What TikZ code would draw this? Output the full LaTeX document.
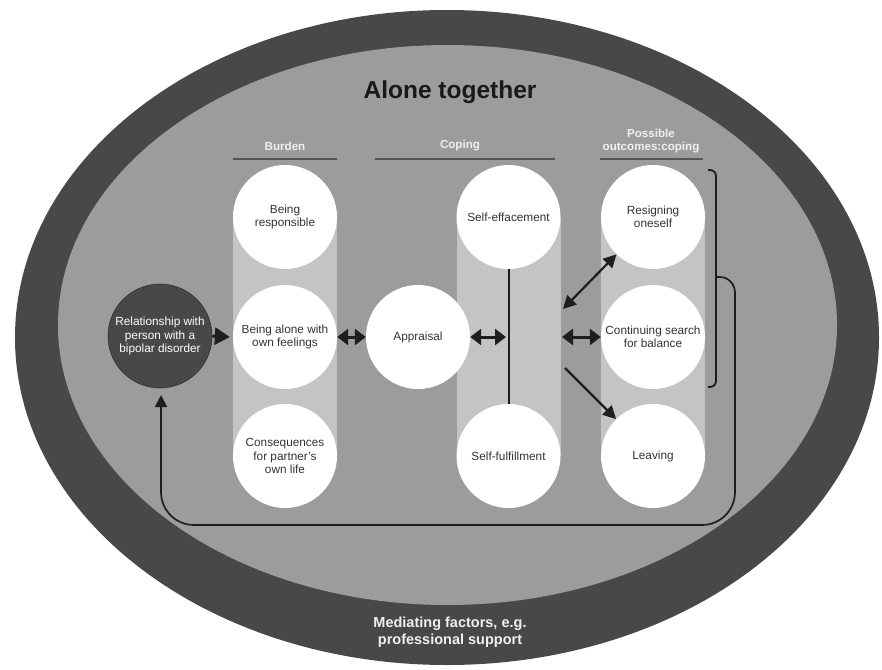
\documentclass[tikz,border=0pt]{standalone}
\usepackage{fontspec}
\setmainfont{Liberation Sans}
\usetikzlibrary{arrows.meta}
\definecolor{ringc}{HTML}{484848}
\definecolor{innerc}{HTML}{9C9C9C}
\definecolor{bandc}{HTML}{C4C4C4}
\definecolor{txtc}{HTML}{333333}
\definecolor{headc}{HTML}{F0F0F0}
\definecolor{linec}{HTML}{555555}
\definecolor{arrc}{HTML}{1E1E1E}
\tikzset{
  circ/.style={circle, fill=white, minimum size=104pt, inner sep=0pt, align=center,
    text=txtc, font=\fontsize{11.8}{13.3}\selectfont},
  relc/.style={circle, fill=ringc, draw=black!80, line width=0.6pt, minimum size=104pt, inner sep=0pt, align=center,
    text=white, font=\fontsize{11.8}{13.3}\selectfont},
  head/.style={text=headc, font=\bfseries\fontsize{11.6}{13.5}\selectfont, align=center},
  headline/.style={draw=linec, line width=2pt},
  band/.style={fill=bandc},
  dblarrow/.style={draw=arrc, line width=3pt, {Triangle[length=11pt,width=16pt]}-{Triangle[length=11pt,width=16pt]}},
  sglarrow/.style={draw=arrc, line width=3pt, -{Triangle[length=15pt,width=17pt]}},
  diagdbl/.style={draw=arrc, line width=2.2pt, {Triangle[length=13pt,width=13pt]}-{Triangle[length=13pt,width=13pt]}},
  diagsgl/.style={draw=arrc, line width=2.2pt, -{Triangle[length=13pt,width=13pt]}},
  loopline/.style={draw=arrc, line width=1.7pt},
}
\begin{document}
\begin{tikzpicture}[x=1pt,y=-1pt]
\useasboundingbox (0,0) rectangle (882,669);
\fill[white] (0,0) rectangle (882,669);
% ellipses
\fill[ringc] (447,337.5) ellipse [x radius=432pt, y radius=327.5pt];
\fill[innerc] (447.5,325) ellipse [x radius=389.5pt, y radius=280pt];
% title
\node[font=\bfseries\fontsize{24.5}{28}\selectfont, text=black!90] (title) at (450,92) {Alone together};
\node[font=\bfseries\fontsize{14.5}{17}\selectfont, text=headc, align=center] (med) at (450,632)
  {Mediating factors, e.g.\\professional support};
% headers
\node[head] (hburden) at (285,146) {Burden};
\node[head] (hcoping) at (460,146) {Coping};
\node[head] (hout) at (651,141) {Possible\\outcomes:coping};
\draw[headline] (233,159) -- (337,159);
\draw[headline] (375,159) -- (555,159);
\draw[headline] (600,159) -- (703,159);
% bands
\fill[band] (233,217) rectangle (337,456);
\fill[band] (456.5,217) rectangle (560.5,456);
\fill[band] (601,217) rectangle (705,456);
% circles
\node[relc] (rel) at (160,336) {Relationship with\\person with a\\bipolar disorder};
\node[circ] (resp) at (285,217) {Being\\responsible};
\node[circ] (alone) at (285,337) {Being alone with\\own feelings};
\node[circ] (cons) at (285,456) {Consequences\\for partner's\\own life};
\node[circ] (appr) at (418,337) {Appraisal};
\node[circ] (seff) at (508.5,217) {Self-effacement};
\node[circ] (sful) at (508.5,456) {Self-fulfillment};
\node[circ] (resg) at (653,217) {Resigning\\oneself};
\node[circ] (cont) at (653,337) {Continuing search\\for balance};
\node[circ] (leav) at (653,456) {Leaving};
% coping line
\draw[draw=arrc, line width=2pt] (seff) -- (sful);
% arrows
\draw[sglarrow] (rel.east) -- ([xshift=-3pt]alone.west);
\draw[dblarrow] (alone.east) -- (appr.west);
\coordinate (copL) at (506,337);
\draw[dblarrow] (appr.east) -- (copL);
\coordinate (copR) at (562,337);
\draw[dblarrow] (copR) -- (cont.west);
\coordinate (dU) at (563,309);
\draw[diagdbl] (dU) -- (resg);
\coordinate (dD) at (565,368);
\draw[diagsgl] (dD) -- (leav);
% bracket
\coordinate (bT) at (708,170);
\coordinate (bB) at (708,387);
\draw[loopline, line width=1.8pt, rounded corners=6pt] (bT) -- (716,170) -- (716,387) -- (bB);
% loop
\coordinate (lS) at (716,277);
\coordinate (relB) at (161,395);
\draw[loopline, -{Triangle[length=12pt,width=12pt]}]
  (lS) -- (720,277) to[out=0,in=90] (735,293) -- (735,492)
  to[out=-90,in=0] (702,525) -- (194,525) to[out=180,in=-90] (161,492)
  -- (relB);
\end{tikzpicture}
\end{document}
